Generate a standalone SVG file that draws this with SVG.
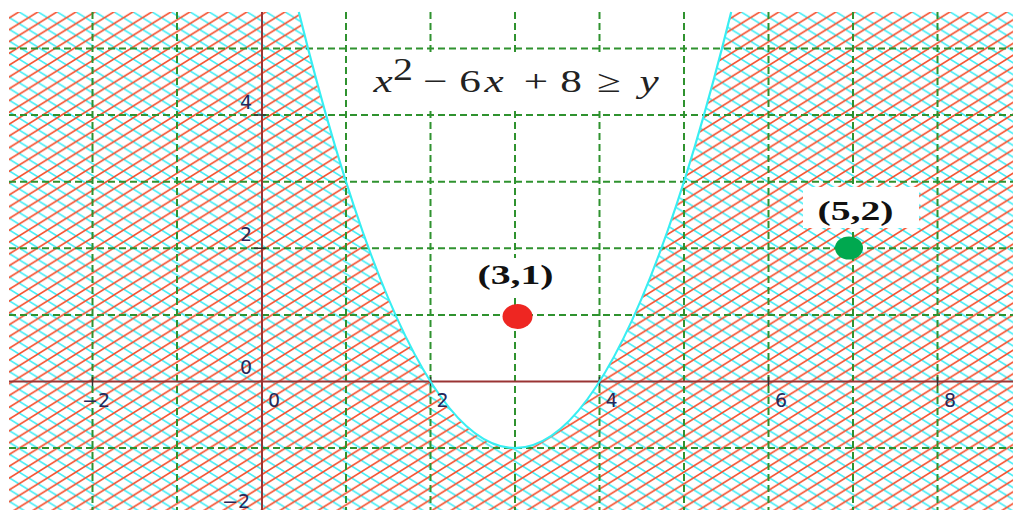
<svg xmlns="http://www.w3.org/2000/svg" width="1013" height="512" viewBox="0 0 1013 512">
<style>
.grid{stroke:#2f922f;stroke-width:2;stroke-dasharray:7 4;fill:none}
.axis{stroke:#9a3434;stroke-width:2;fill:none}
.tick{stroke:#333;stroke-width:1.5}
.lbl{font-family:"DejaVu Sans",sans-serif;font-size:19px;fill:#28285a}
.pt{font-family:"Liberation Serif",serif;font-weight:bold;font-size:28px;fill:#111;text-anchor:middle}
.eq{font-family:"Liberation Serif",serif;font-size:32px;fill:#222;text-anchor:middle}
</style>
<defs>
<pattern id="hatch" patternUnits="userSpaceOnUse" width="19" height="11.8">
<path d="M-19,-11.8 L38,23.6 M-38,-11.8 L19,23.6 M0,-11.8 L57,23.6" stroke="#45eef6" stroke-width="1.6" fill="none"/>
<path d="M-19,23.6 L38,-11.8 M-38,23.6 L19,-11.8 M0,23.6 L57,-11.8" stroke="#f5502f" stroke-width="1.6" fill="none"/>
</pattern>
</defs>
<rect width="1013" height="512" fill="#fff"/>
<g id="region">
<path d="M9,12 H1013 V510 H9 Z M298.8,12 Q515,884.3 731.2,12 Z" fill="url(#hatch)" fill-rule="evenodd"/>
</g>
<g id="grid">
<path class="grid" d="M92.5,12V510 M177,12V510 M346,12V510 M430.5,12V510 M515,12V510 M599.5,12V510 M684,12V510 M768.5,12V510 M853,12V510 M937.5,12V510"/>
<path class="grid" d="M9,48.5H1013 M9,115.1H1013 M9,181.7H1013 M9,248.3H1013 M9,314.9H1013 M9,448.1H1013"/>
</g>
<g id="axes">
<path class="axis" d="M9,381.5H1013 M262,12V510"/>
<path class="tick" d="M92.5,377V386 M430.5,377V386 M599.5,377V386 M768.5,377V386 M937.5,377V386 M254,115.1H266 M254,248.3H266"/>
</g>
<g id="curve">
<path d="M298.8,12 Q515,884.3 731.2,12" fill="none" stroke="#38eef2" stroke-width="2.2"/>
</g>
<g id="axis-labels">
<text class="lbl" x="110" y="407" text-anchor="end">−2</text>
<text class="lbl" x="280" y="407" text-anchor="end">0</text>
<text class="lbl" x="448.5" y="407" text-anchor="end">2</text>
<text class="lbl" x="617.5" y="407" text-anchor="end">4</text>
<text class="lbl" x="787" y="407" text-anchor="end">6</text>
<text class="lbl" x="956" y="407" text-anchor="end">8</text>
<text class="lbl" x="252" y="108.5" text-anchor="end">4</text>
<text class="lbl" x="252" y="241" text-anchor="end">2</text>
<text class="lbl" x="252" y="374" text-anchor="end">0</text>
<text class="lbl" x="250" y="508" text-anchor="end">−2</text>
</g>
<g id="formula">
<rect x="350" y="52" width="330" height="59" fill="#fff"/>
<text class="eq" transform="translate(383,92) scale(1.35,1)" font-style="italic">x</text>
<text class="eq" transform="translate(403,80) scale(1.25,1)" font-size="17">2</text>
<text class="eq" transform="translate(435,92) scale(1.35,1)">−</text>
<text class="eq" transform="translate(470,92) scale(1.35,1)">6</text>
<text class="eq" transform="translate(494,92) scale(1.35,1)" font-style="italic">x</text>
<text class="eq" transform="translate(536,92) scale(1.35,1)">+</text>
<text class="eq" transform="translate(571,92) scale(1.35,1)">8</text>
<text class="eq" transform="translate(609,92) scale(1.35,1)">≥</text>
<text class="eq" transform="translate(649,92) scale(1.35,1)" font-style="italic">y</text>
</g>
<g id="point-3-1">
<rect x="464" y="258" width="104" height="36" fill="#fff"/>
<text class="pt" transform="translate(515.5,284) scale(1.42,1)">(3,1)</text>
<ellipse cx="517.5" cy="316.5" rx="15" ry="12.5" fill="#ee2622"/>
</g>
<g id="point-5-2">
<rect x="803" y="187" width="116" height="41" fill="#fff"/>
<text class="pt" transform="translate(855.5,220) scale(1.42,1)">(5,2)</text>
<ellipse cx="849" cy="248" rx="14" ry="11.5" fill="#00a84f"/>
</g>
</svg>
